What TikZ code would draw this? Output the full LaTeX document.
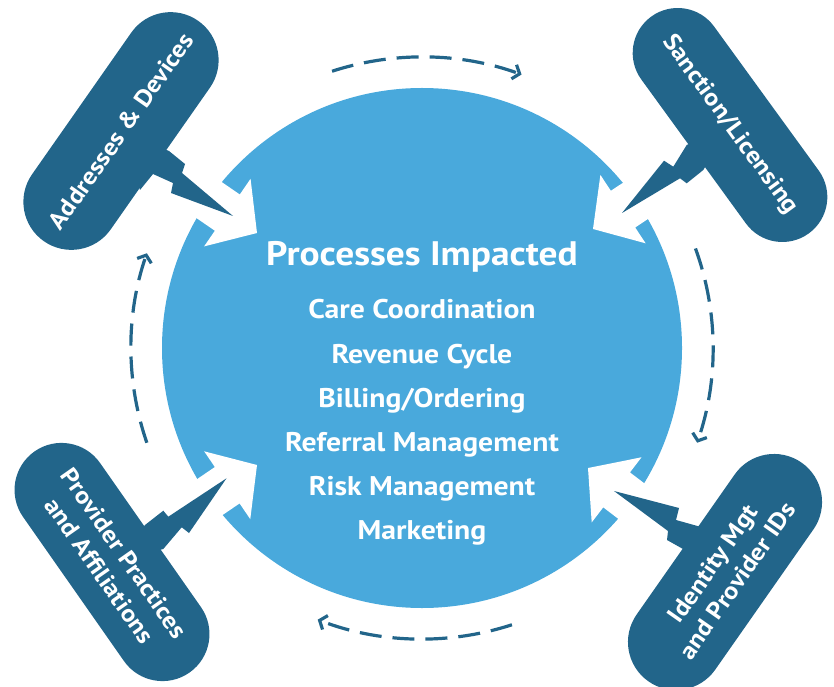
\documentclass[tikz,border=0pt]{standalone}
\usepackage{fontspec}
\setmainfont{PT Sans}[FakeStretch=1.1]
\usetikzlibrary{arrows.meta}
\definecolor{cblue}{HTML}{49A9DC}
\definecolor{cdark}{HTML}{22658A}
\begin{document}
\begin{tikzpicture}[x=1pt,y=1pt,
  pill/.style={fill=cdark, text=white, font=\fontsize{24}{30}\selectfont\bfseries, align=center, inner sep=0pt},
  tailshape/.style={fill=cdark},
  whitearrow/.style={fill=white},
  cyc/.style={draw=cdark, line width=3.2pt, dash pattern=on 22pt off 11pt, -{Straight Barb[length=6pt,width=15pt]}},
  ttl/.style={text=white, font=\fontsize{34}{38}\selectfont\bfseries, anchor=base},
  item/.style={text=white, font=\fontsize{27}{30}\selectfont\bfseries, anchor=base}]
\useasboundingbox (0,0) rectangle (834,686);
\coordinate (c) at (422,338);
\fill[cblue] (c) circle[radius=260];
% white arrows cutting into the circle
\foreach \x/\y/\a in {257/453/-34.5, 593/457/-146.5, 257/221/34.2, 588/218/142.6}{
  \begin{scope}[shift={(\x,\y)}, rotate=\a]
    \fill[whitearrow] (0,0) -- (-36,41) -- (-36,22) -- (-110,22) -- (-110,-22) -- (-36,-22) -- (-36,-41) -- cycle;
  \end{scope}
}
% callout centres and tail tips
\coordinate (addrc) at (121,555);
\coordinate (sancc) at (730,561);
\coordinate (provc) at (112,124);
\coordinate (identc) at (725,114);
\coordinate (addrt) at (233,470);
\coordinate (sanct) at (622,473);
\coordinate (provt) at (226.5,207.7);
\coordinate (identt) at (614,195);
% tails
\fill[tailshape] (addrc) -- (169,535) -- (185,522) -- (182,513) -- (addrt) -- (171,493) -- (173,503) -- (153,512) -- (140,496) -- cycle;
\fill[tailshape] (sancc) -- (686.7,541) -- (673.3,519.3) -- (664,525.3) -- (sanct) -- (680,507.7) -- (686.7,502.7) -- (703.3,516) -- cycle;
\fill[tailshape] (provc) -- (145,161) -- (163.3,175.3) -- (168.3,169.3) -- (provt) -- (189,153) -- (181.7,158.7) -- (163.3,137) -- cycle;
\fill[tailshape] (identc) -- (701,159) -- (676,166) -- (679,178) -- (identt) -- (668,155) -- (667,146) -- (683,137) -- cycle;
% callouts
\node[pill, rotate=55, minimum width=269pt, minimum height=96pt, rounded corners=48pt] (addr) at (addrc) {Addresses \& Devices};
\node[pill, rotate=-54, minimum width=268pt, minimum height=90pt, rounded corners=45pt] (sanc) at (sancc) {Sanction/Licensing};
\node[pill, rotate=-55, minimum width=270pt, minimum height=94pt, rounded corners=47pt] (prov) at (provc) {Provider Practices\\and Affiliations};
\node[pill, rotate=55, minimum width=267pt, minimum height=96pt, rounded corners=48pt] (ident) at (identc) {Identity Mgt\\and Provider IDs};
% centre texts
\node[ttl] (title) at (422,420) {Processes Impacted};
\node[item] (l1) at (422,367) {Care Coordination};
\node[item] (l2) at (422,323) {Revenue Cycle};
\node[item] (l3) at (422,279) {Billing/Ordering};
\node[item] (l4) at (422,235) {Referral Management};
\node[item] (l5) at (422,191) {Risk Management};
\node[item] (l6) at (422,147) {Marketing};
% cycle arrows
\draw[cyc] ([shift={(108:291)}]c) arc[start angle=108, end angle=70, radius=291];
\draw[cyc] ([shift={(20:291)}]c) arc[start angle=20, end angle=-19, radius=291];
\draw[cyc] ([shift={(-72:291)}]c) arc[start angle=-72, end angle=-111, radius=291];
\draw[cyc] ([shift={(199:291)}]c) arc[start angle=199, end angle=161, radius=291];
\end{tikzpicture}
\end{document}
